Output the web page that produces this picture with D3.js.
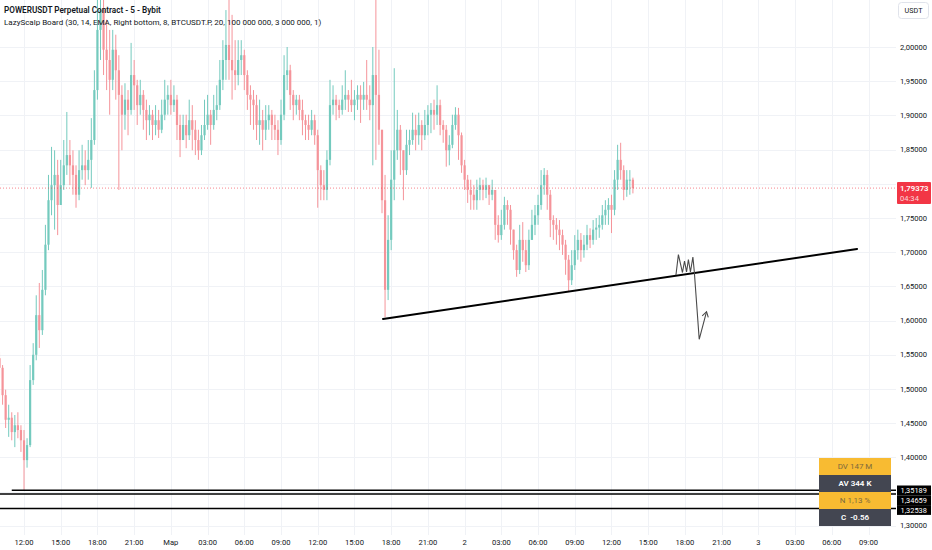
<!DOCTYPE html>
<html><head><meta charset="utf-8">
<script src="https://cdn.jsdelivr.net/npm/d3@7"></script>
<style>
body{margin:0;background:#fff;overflow:hidden}
svg{display:block;font-family:Roboto,"Noto Sans",Arial,sans-serif}
</style>
</head><body>
<svg id="chart" width="932" height="550"></svg>
<script>
// ---------- DATA ----------
const candleStart = new Date(2025, 1, 28, 10, 0);   // first 15-min candle
const candleMinutes = 15;
const firstOpen = 1.545;
const closes = [
1.531,1.491,1.455,1.458,1.437,1.447,1.440,1.425,1.396,1.418,
1.513,1.550,1.608,1.586,1.645,1.711,1.776,1.798,1.813,1.769,
1.798,1.827,1.842,1.827,1.813,1.784,1.820,1.827,1.820,1.835,
1.864,1.937,2.025,2.054,1.996,1.981,1.952,1.996,1.966,1.930,
1.901,1.923,1.908,1.959,1.944,1.915,1.930,1.908,1.893,1.901,
1.886,1.893,1.879,1.901,1.923,1.930,1.915,1.923,1.886,1.864,
1.886,1.871,1.893,1.879,1.864,1.849,1.871,1.886,1.901,1.886,
1.908,1.915,1.952,1.981,2.003,1.981,1.966,1.959,1.981,1.988,
1.959,1.930,1.923,1.915,1.886,1.893,1.879,1.893,1.901,1.886,
1.879,1.864,1.901,1.959,1.966,1.930,1.915,1.923,1.908,1.893,
1.886,1.879,1.893,1.871,1.820,1.798,1.791,1.835,1.915,1.923,
1.915,1.908,1.923,1.930,1.923,1.915,1.923,1.930,1.923,1.930,
1.923,1.915,1.959,1.930,1.879,1.776,1.645,1.718,1.806,1.849,
1.879,1.849,1.820,1.857,1.864,1.879,1.871,1.886,1.871,1.886,
1.901,1.908,1.901,1.915,1.886,1.879,1.849,1.857,1.886,1.901,
1.871,1.827,1.806,1.791,1.784,1.776,1.791,1.798,1.791,1.798,
1.784,1.791,1.740,1.725,1.740,1.769,1.762,1.733,1.703,1.674,
1.718,1.703,1.681,1.718,1.740,1.754,1.769,1.798,1.813,1.784,
1.747,1.740,1.733,1.725,1.711,1.689,1.659,1.681,1.703,1.718,
1.703,1.711,1.725,1.718,1.733,1.736,1.740,1.754,1.762,1.769,
1.762,1.806,1.835,1.820,1.791,1.806,1.806,1.7937];
const highs = [
1.554,1.535,1.499,1.477,1.466,1.462,1.466,1.447,1.440,1.428,
1.535,1.567,1.637,1.655,1.674,1.740,1.813,1.854,1.849,1.835,
1.835,1.864,1.905,1.864,1.849,1.827,1.849,1.857,1.849,1.864,
1.896,1.966,2.083,2.098,2.069,2.040,2.025,2.025,2.018,1.988,
1.944,1.947,1.937,2.006,1.981,1.952,1.952,1.937,1.923,1.915,
1.908,1.915,1.908,1.923,1.952,1.944,1.952,1.944,1.930,1.901,
1.901,1.901,1.923,1.915,1.893,1.879,1.886,1.923,1.930,1.908,
1.930,1.944,1.981,2.010,2.054,2.083,2.047,2.010,2.010,2.010,
1.996,1.966,1.944,1.937,1.930,1.923,1.908,1.915,1.915,1.908,
1.901,1.893,1.923,1.988,2.000,1.974,1.937,1.930,1.930,1.923,
1.901,1.901,1.908,1.901,1.879,1.827,1.820,1.849,1.952,1.944,
1.930,1.923,1.944,1.966,1.937,1.952,1.937,1.944,1.944,1.949,
1.981,1.944,2.000,2.083,1.996,1.879,1.813,1.754,1.849,1.969,
1.908,1.886,1.849,1.879,1.879,1.904,1.901,1.904,1.893,1.908,
1.915,1.918,1.923,1.944,1.923,1.893,1.886,1.871,1.901,1.912,
1.911,1.875,1.835,1.813,1.806,1.798,1.806,1.809,1.806,1.809,
1.798,1.806,1.791,1.754,1.762,1.781,1.776,1.769,1.733,1.711,
1.740,1.744,1.718,1.733,1.762,1.769,1.784,1.820,1.823,1.820,
1.791,1.754,1.750,1.747,1.733,1.718,1.696,1.703,1.725,1.733,
1.728,1.725,1.740,1.735,1.747,1.750,1.754,1.769,1.776,1.779,
1.784,1.820,1.857,1.860,1.827,1.820,1.820,1.809];
const lows = [
1.516,1.477,1.443,1.430,1.425,1.415,1.428,1.408,1.352,1.385,
1.415,1.506,1.542,1.560,1.579,1.637,1.703,1.754,1.733,1.725,
1.769,1.791,1.813,1.798,1.784,1.765,1.776,1.806,1.798,1.806,
1.794,1.857,1.923,1.981,1.959,1.937,1.901,1.937,1.923,1.791,
1.849,1.879,1.871,1.901,1.908,1.886,1.901,1.879,1.864,1.871,
1.864,1.871,1.867,1.874,1.893,1.901,1.901,1.905,1.864,1.839,
1.864,1.852,1.864,1.849,1.842,1.835,1.842,1.864,1.879,1.857,
1.879,1.893,1.908,1.937,1.952,1.952,1.923,1.937,1.944,1.959,
1.937,1.908,1.886,1.879,1.864,1.857,1.849,1.864,1.879,1.864,
1.864,1.842,1.857,1.893,1.937,1.908,1.893,1.901,1.893,1.871,
1.864,1.864,1.871,1.857,1.765,1.776,1.776,1.776,1.827,1.901,
1.893,1.896,1.901,1.908,1.905,1.905,1.893,1.908,1.889,1.908,
1.908,1.893,1.827,1.835,1.857,1.757,1.605,1.630,1.703,1.776,
1.835,1.813,1.776,1.813,1.842,1.857,1.849,1.857,1.849,1.864,
1.871,1.874,1.879,1.886,1.871,1.860,1.825,1.827,1.852,1.879,
1.835,1.816,1.791,1.772,1.762,1.762,1.762,1.776,1.776,1.779,
1.769,1.776,1.718,1.714,1.718,1.733,1.740,1.711,1.689,1.664,
1.668,1.686,1.671,1.674,1.718,1.725,1.740,1.762,1.784,1.762,
1.722,1.718,1.711,1.703,1.696,1.667,1.643,1.652,1.674,1.689,
1.686,1.692,1.703,1.706,1.711,1.718,1.721,1.733,1.740,1.740,
1.728,1.754,1.791,1.806,1.776,1.781,1.784,1.786];

const priceTicks = [2.00,1.95,1.90,1.85,1.80,1.75,1.70,1.65,1.60,1.55,1.50,1.45,1.40,1.35,1.30];
const timeTickLabels = ["12:00","15:00","18:00","21:00","Мар","03:00","06:00","09:00","12:00","15:00","18:00","21:00",
                        "2","03:00","06:00","09:00","12:00","15:00","18:00","21:00","3","03:00","06:00","09:00"];
const lastPrice = 1.79373;
const lastPriceLabel = "1,79373";
const countdown = "04:34";
const levelPrices = [1.35189, 1.34659, 1.32538];
const levelLabels = ["1,35189", "1,34659", "1,32538"];
const levelStarts = [new Date(2025,1,28,11,0), new Date(2025,1,28,10,0), new Date(2025,1,28,10,0)];
const trendTimes = [new Date(2025,2,1,17,20), new Date(2025,2,3,8,4)];
const trendPrices = [1.6025, 1.7047];
const zigTimes = [new Date(2025,2,2,17,16), new Date(2025,2,2,17,28), new Date(2025,2,2,17,48), new Date(2025,2,2,17,58),
                  new Date(2025,2,2,18,8), new Date(2025,2,2,18,17), new Date(2025,2,2,18,27), new Date(2025,2,2,18,39),
                  new Date(2025,2,2,18,46), new Date(2025,2,2,19,10), new Date(2025,2,2,19,46)];
const zigPrices = [1.6667, 1.6966, 1.6703, 1.6871, 1.6711, 1.6893, 1.6711, 1.6930, 1.6715, 1.5727, 1.6130];
const boardLabels = ["DV 147 M", "AV 344 K", "N 1,13 %", "C  -0.56"];
const titleLine = "POWERUSDT Perpetual Contract - 5 - Bybit";
const indicatorLine = "LazyScalp Board (30, 14, EMA, Right bottom, 8, BTCUSDT.P, 20, 100 000 000, 3 000 000, 1)";

// ---------- SCALES ----------
const svg = d3.select("#chart");
const plotRight = 896, plotBottom = 535;
const x = d3.scaleTime()
  .domain([new Date(2025,1,28,12,0), new Date(2025,2,3,6,0)])
  .range([24, 831.8]);
const y = d3.scaleLinear().domain([1.30, 2.00]).range([525.8, 47]);

const candles = closes.map((c, i) => ({
  t: new Date(candleStart.getTime() + i * candleMinutes * 60000),
  o: i === 0 ? firstOpen : closes[i - 1],
  h: highs[i], l: lows[i], c: c
}));
const candleW = x(new Date(candleStart.getTime() + candleMinutes * 60000)) - x(candleStart);

// ---------- GRID ----------
const timeTicks = d3.timeHour.every(3).range(new Date(2025,1,28,12,0), new Date(2025,2,3,9,1));
const grid = svg.append("g");
grid.selectAll("line.v").data(timeTicks).join("line")
  .attr("x1", d => Math.round(x(d)) + 0.5).attr("x2", d => Math.round(x(d)) + 0.5)
  .attr("y1", 0).attr("y2", plotBottom)
  .attr("stroke", "#f0f2f6").attr("stroke-width", 1);
grid.selectAll("line.h").data(priceTicks).join("line")
  .attr("x1", 0).attr("x2", plotRight)
  .attr("y1", d => Math.round(y(d)) + 0.5).attr("y2", d => Math.round(y(d)) + 0.5)
  .attr("stroke", "#f0f2f6").attr("stroke-width", 1);

// ---------- CANDLES ----------
const cg = svg.append("g");
const upCol = "#74cabe", downCol = "#f5949a";
cg.selectAll("line.wick").data(candles).join("line")
  .attr("x1", d => x(d.t)).attr("x2", d => x(d.t))
  .attr("y1", d => y(d.h)).attr("y2", d => y(d.l))
  .attr("stroke", d => d.c >= d.o ? upCol : downCol).attr("stroke-width", 1);
cg.selectAll("rect.body").data(candles).join("rect")
  .attr("x", d => x(d.t) - candleW * 0.36)
  .attr("width", candleW * 0.72)
  .attr("y", d => y(Math.max(d.o, d.c)))
  .attr("height", d => Math.max(1, Math.abs(y(d.o) - y(d.c))))
  .attr("fill", d => d.c >= d.o ? upCol : downCol);

// ---------- LAST PRICE LINE ----------
svg.append("line")
  .attr("x1", 0).attr("x2", plotRight)
  .attr("y1", y(lastPrice)).attr("y2", y(lastPrice))
  .attr("stroke", "#f23645").attr("stroke-opacity", 0.6)
  .attr("stroke-width", 1).attr("stroke-dasharray", "1,2");

// ---------- TRENDLINE ----------
svg.append("line")
  .attr("x1", x(trendTimes[0])).attr("y1", y(trendPrices[0]))
  .attr("x2", x(trendTimes[1])).attr("y2", y(trendPrices[1]))
  .attr("stroke", "#000").attr("stroke-width", 2).attr("stroke-linecap", "round");

// ---------- ZIGZAG PATH ----------
const zigPts = zigTimes.map((t, i) => [x(t), y(zigPrices[i])]);
svg.append("path")
  .attr("d", d3.line()(zigPts))
  .attr("fill", "none").attr("stroke", "#4a4a4a").attr("stroke-width", 1.1)
  .attr("stroke-linejoin", "miter");
{
  const p1 = zigPts[zigPts.length - 2], p2 = zigPts[zigPts.length - 1];
  const ang = Math.atan2(p2[1] - p1[1], p2[0] - p1[0]);
  const L = 6, spread = 0.55;
  const a1 = [p2[0] - L * Math.cos(ang - spread), p2[1] - L * Math.sin(ang - spread)];
  const a2 = [p2[0] - L * Math.cos(ang + spread), p2[1] - L * Math.sin(ang + spread)];
  svg.append("path").attr("d", d3.line()([a1, p2, a2]))
    .attr("fill", "none").attr("stroke", "#4a4a4a").attr("stroke-width", 1.1);
}

// ---------- HORIZONTAL LEVELS ----------
svg.selectAll("line.lvl").data(levelPrices).join("line")
  .attr("x1", (d, i) => Math.max(0, x(levelStarts[i]))).attr("x2", plotRight)
  .attr("y1", d => y(d)).attr("y2", d => y(d))
  .attr("stroke", "#000").attr("stroke-width", 1.6);

// ---------- TITLE ----------
svg.append("text").attr("x", 4).attr("y", 13)
  .attr("font-size", 8.2).attr("font-weight", 600).attr("fill", "#131722").text(titleLine);
svg.append("text").attr("x", 4).attr("y", 24.5)
  .attr("font-size", 8).attr("fill", "#131722").text(indicatorLine);

// ---------- PRICE AXIS ----------
// tick labels covered by the price-label boxes are not shown (as on the reference)
const lvlBoxY = [485.5, 495.3, 505.1];
const lastBoxTop = y(lastPrice) - 6, lastBoxBottom = y(lastPrice) + 16;
const visibleTicks = priceTicks.filter(p => {
  const yy = y(p);
  if (yy > lastBoxTop - 5 && yy < lastBoxBottom + 4) return false;
  if (yy > lvlBoxY[0] - 5 && yy < lvlBoxY[2] + 9.8 + 4) return false;
  return true;
});
svg.append("g").selectAll("text").data(visibleTicks).join("text")
  .attr("x", 900).attr("y", d => y(d)).attr("dy", "0.35em")
  .attr("font-size", 7.6).attr("fill", "#131722")
  .text(d => d3.format(".5f")(d).replace(".", ","));

// USDT button
svg.append("rect").attr("x", 898.5).attr("y", 2.5).attr("width", 30).attr("height", 16).attr("rx", 3)
  .attr("fill", "#fff").attr("stroke", "#e0e3eb");
svg.append("text").attr("x", 913.5).attr("y", 10.5).attr("dy", "0.35em").attr("text-anchor", "middle")
  .attr("font-size", 7.2).attr("fill", "#131722").text("USDT");

// last price label
svg.append("rect").attr("x", 897).attr("y", lastBoxTop).attr("width", 34).attr("height", 22)
  .attr("rx", 1).attr("fill", "#f23645");
svg.append("text").attr("x", 900).attr("y", y(lastPrice)).attr("dy", "0.35em")
  .attr("font-size", 7.8).attr("font-weight", 600).attr("fill", "#fff").text(lastPriceLabel);
svg.append("text").attr("x", 900).attr("y", y(lastPrice) + 10.5).attr("dy", "0.35em")
  .attr("font-size", 7.6).attr("fill", "#fff").attr("fill-opacity", 0.8).text(countdown);

// level labels (stacked)
levelLabels.forEach((lab, i) => {
  svg.append("rect").attr("x", 897).attr("y", lvlBoxY[i]).attr("width", 34).attr("height", 9.8).attr("fill", "#000");
  svg.append("text").attr("x", 900.5).attr("y", lvlBoxY[i] + 4.9).attr("dy", "0.35em")
    .attr("font-size", 7.4).attr("fill", "#fff").text(lab);
});

// ---------- BOARD ----------
const boardX = 819, boardW = 72, rowH = 17, boardY = 458;
boardLabels.forEach((lab, i) => {
  const yellow = i % 2 === 0;
  svg.append("rect").attr("x", boardX).attr("y", boardY + i * rowH).attr("width", boardW).attr("height", rowH)
    .attr("fill", yellow ? "#f8bb32" : "#434651");
  svg.append("text").attr("x", boardX + boardW / 2).attr("y", boardY + i * rowH + rowH / 2).attr("dy", "0.35em")
    .attr("text-anchor", "middle").attr("font-size", 8)
    .attr("font-weight", yellow ? 400 : 600)
    .attr("fill", yellow ? "#7d6a3e" : "#ffffff")
    .attr("xml:space", "preserve").style("white-space", "pre")
    .text(lab);
});

// ---------- TIME AXIS ----------
svg.append("g").selectAll("text").data(timeTicks).join("text")
  .attr("x", d => x(d)).attr("y", 542).attr("dy", "0.35em").attr("text-anchor", "middle")
  .attr("font-size", 7.6).attr("fill", "#131722")
  .text((d, i) => timeTickLabels[i]);
</script>
</body></html>
